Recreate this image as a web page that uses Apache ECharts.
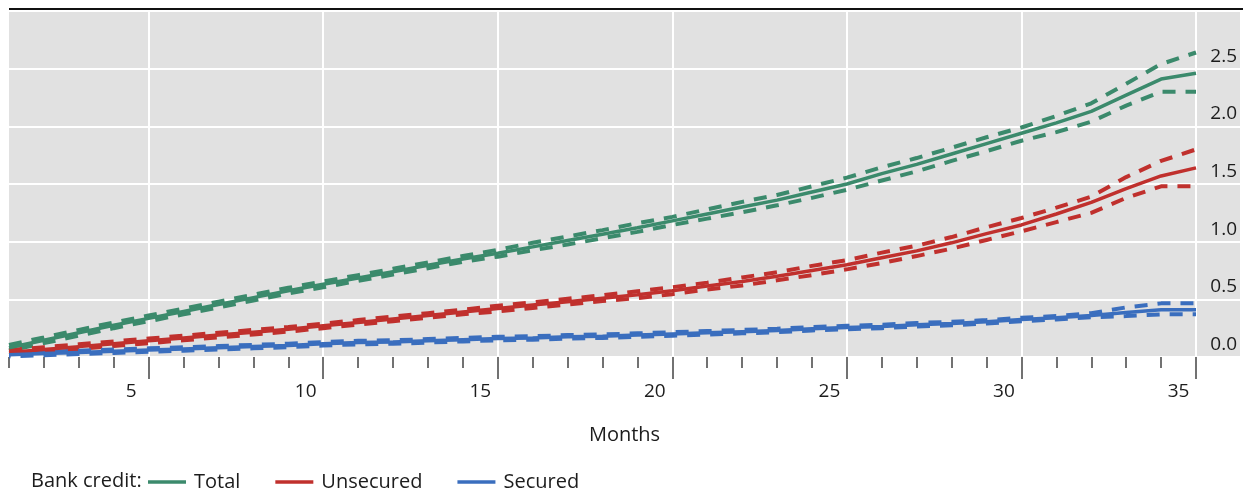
<!DOCTYPE html>
<html>
<head>
<meta charset="utf-8">
<script src="https://cdn.jsdelivr.net/npm/echarts@6/dist/echarts.min.js"></script>
<style>
  html, body { margin: 0; padding: 0; background: #ffffff; }
  #chart { width: 1256px; height: 493px; }
</style>
</head>
<body>
<div id="chart"></div>
<script>
// Months since start of the period
const months = [1,2,3,4,5,6,7,8,9,10,11,12,13,14,15,16,17,18,19,20,21,22,23,24,25,26,27,28,29,30,31,32,33,34,35];

// Total bank credit: central path and band edges
const totalMid   = [0.08,0.145,0.21,0.275,0.335,0.395,0.455,0.515,0.575,0.63,0.685,0.74,0.795,0.85,0.90,0.955,1.01,1.065,1.12,1.18,1.24,1.30,1.36,1.43,1.50,1.59,1.67,1.76,1.85,1.94,2.03,2.13,2.27,2.41,2.46];
const totalHigh  = [0.105,0.17,0.235,0.30,0.36,0.42,0.48,0.54,0.60,0.655,0.71,0.765,0.82,0.875,0.93,0.99,1.045,1.10,1.16,1.215,1.28,1.345,1.405,1.48,1.555,1.645,1.725,1.815,1.905,1.99,2.09,2.20,2.37,2.54,2.64];
const totalLow   = [0.055,0.12,0.185,0.25,0.31,0.37,0.43,0.49,0.55,0.605,0.66,0.715,0.77,0.825,0.87,0.925,0.975,1.03,1.085,1.145,1.20,1.255,1.315,1.38,1.45,1.53,1.61,1.70,1.785,1.875,1.95,2.04,2.18,2.30,2.30];

// Unsecured bank credit
const unsecMid   = [0.04,0.065,0.09,0.115,0.14,0.165,0.19,0.215,0.24,0.27,0.30,0.33,0.36,0.39,0.42,0.45,0.48,0.51,0.54,0.575,0.615,0.655,0.70,0.75,0.80,0.86,0.92,0.99,1.07,1.145,1.24,1.34,1.46,1.57,1.64];
const unsecHigh  = [0.06,0.085,0.11,0.135,0.16,0.185,0.21,0.235,0.26,0.29,0.32,0.35,0.38,0.41,0.445,0.475,0.505,0.535,0.57,0.605,0.645,0.69,0.735,0.79,0.84,0.905,0.965,1.04,1.125,1.205,1.295,1.39,1.56,1.70,1.80];
const unsecLow   = [0.02,0.045,0.07,0.095,0.12,0.145,0.17,0.195,0.22,0.25,0.28,0.31,0.34,0.37,0.395,0.425,0.455,0.485,0.51,0.545,0.585,0.62,0.665,0.71,0.76,0.815,0.875,0.94,1.015,1.09,1.17,1.25,1.38,1.48,1.48];

// Secured bank credit
const secMid     = [0.02,0.03,0.04,0.05,0.06,0.07,0.08,0.09,0.10,0.115,0.125,0.13,0.14,0.15,0.16,0.165,0.175,0.18,0.19,0.20,0.21,0.22,0.23,0.245,0.255,0.265,0.28,0.29,0.305,0.325,0.34,0.36,0.385,0.41,0.41];
const secHigh    = [0.035,0.045,0.055,0.065,0.075,0.085,0.095,0.105,0.115,0.13,0.14,0.145,0.155,0.165,0.175,0.18,0.19,0.195,0.205,0.215,0.225,0.235,0.245,0.26,0.27,0.28,0.295,0.305,0.32,0.34,0.355,0.38,0.43,0.465,0.465];
const secLow     = [0.005,0.015,0.025,0.035,0.045,0.055,0.065,0.075,0.085,0.10,0.11,0.115,0.125,0.135,0.145,0.15,0.16,0.165,0.175,0.185,0.195,0.205,0.215,0.23,0.24,0.25,0.265,0.275,0.29,0.31,0.325,0.345,0.355,0.37,0.37];

// Axis ticks
const majorTicks = [5,10,15,20,25,30,35];
const minorTicks = months.filter(m => m % 5 !== 0);
const yTicks = [0, 0.5, 1.0, 1.5, 2.0, 2.5];

const GREEN = '#3b8a6c';
const RED = '#c0302d';
const BLUE = '#3a6ebe';
const INK = '#1c1c1c';
const FONT = '"Open Sans", "Noto Sans", sans-serif';

function pairs(vals) { return months.map((m, i) => [m, vals[i]]); }

function solid(name, color, vals) {
  return {
    name, type: 'line', data: pairs(vals), symbol: 'none', silent: true,
    color, lineStyle: { color, width: 3.5 }, z: 3
  };
}
function dashed(name, color, vals, offset) {
  return {
    name, type: 'line', data: pairs(vals), symbol: 'none', silent: true,
    color, lineStyle: { color, width: 4, type: [13, 10], dashOffset: offset }, z: 2
  };
}

const chart = echarts.init(document.getElementById('chart'), null, { renderer: 'canvas' });

chart.setOption({
  animation: false,
  backgroundColor: '#ffffff',
  textStyle: { fontFamily: FONT },
  title: {
    text: 'Bank credit:',
    left: 26, top: 466,
    textStyle: { fontFamily: FONT, fontSize: 20, fontWeight: 'normal', color: INK }
  },
  legend: {
    data: ['Total', 'Unsecured', 'Secured'],
    left: 143, top: 467,
    icon: 'rect',
    itemWidth: 38, itemHeight: 3.5,
    itemGap: 35,
    selectedMode: false,
    textStyle: { fontFamily: FONT, fontSize: 20, color: INK, padding: [0, 0, 0, 3] }
  },
  graphic: [
    { type: 'line', shape: { x1: 9, y1: 9, x2: 1243, y2: 9 }, style: { stroke: '#111', lineWidth: 2 }, silent: true }
  ],
  grid: {
    left: 9, right: 16, top: 11, bottom: 136,
    show: true, backgroundColor: '#e1e1e1', borderWidth: 0
  },
  xAxis: [
    {
      type: 'value', min: 1, max: 36.26, position: 'bottom',
      name: 'Months', nameLocation: 'middle', nameGap: 68,
      nameTextStyle: { fontFamily: FONT, fontSize: 20, color: INK },
      axisLine: { show: false },
      axisTick: { show: true, customValues: majorTicks, length: 22, lineStyle: { color: '#444', width: 1.5 } },
      axisLabel: {
        customValues: majorTicks, margin: 25, fontFamily: FONT, fontSize: 19, color: INK,
        padding: [0, 35, 0, 0]
      },
      splitLine: { show: true, lineStyle: { color: '#ffffff', width: 2 } }
    },
    {
      type: 'value', min: 1, max: 36.26, position: 'bottom',
      axisLine: { show: false },
      axisTick: { show: true, customValues: minorTicks, length: 11, lineStyle: { color: '#444', width: 1.5 } },
      axisLabel: { show: false },
      splitLine: { show: false }
    }
  ],
  yAxis: {
    type: 'value', min: 0, max: 3, interval: 0.5, position: 'right',
    axisLine: { show: false },
    axisTick: { show: false },
    axisLabel: {
      inside: true, margin: 3, fontFamily: FONT, fontSize: 19, color: INK,
      verticalAlign: 'bottom', padding: [0, 0, 3, 0],
      formatter: v => (yTicks.indexOf(v) >= 0 ? v.toFixed(1) : '')
    },
    splitLine: { show: true, lineStyle: { color: '#ffffff', width: 2 } }
  },
  series: [
    dashed('Total high', GREEN, totalHigh, 0),
    dashed('Total low', GREEN, totalLow, 11.5),
    solid('Total', GREEN, totalMid),
    dashed('Unsecured high', RED, unsecHigh, 0),
    dashed('Unsecured low', RED, unsecLow, 11.5),
    solid('Unsecured', RED, unsecMid),
    dashed('Secured high', BLUE, secHigh, 0),
    dashed('Secured low', BLUE, secLow, 11.5),
    solid('Secured', BLUE, secMid)
  ]
});
</script>
</body>
</html>
